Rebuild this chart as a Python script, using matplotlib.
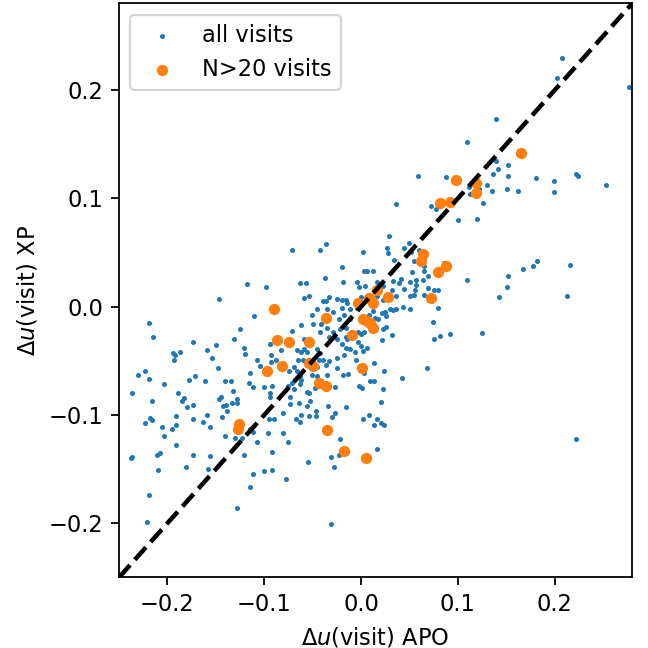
import matplotlib
matplotlib.use("Agg")
import matplotlib.pyplot as plt
import numpy as np

# Per-visit velocity offsets: APO pipeline vs XP pipeline, all visits
all_apo = [
    0.208, 0.202, 0.277, 0.139, 0.109, 0.059, 0.088, 0.139, 0.152, 0.141,
    0.136, 0.152, 0.181, 0.199, 0.222, 0.224, 0.253, 0.130, 0.112, 0.113,
    0.122, 0.135, 0.151, 0.162, 0.199, 0.126, 0.036, 0.072, 0.077, 0.100,
    0.120,
    0.029, 0.050, 0.027, 0.028, 0.044, 0.052, 0.060, 0.034, 0.055, 0.065,
    0.065, 0.086, 0.012, 0.053, 0.069, 0.064, 0.057, 0.041, 0.039, 0.033,
    0.023, 0.016, 0.057, 0.051, 0.044, 0.032, 0.056, 0.069, 0.075, 0.080,
    0.051, 0.055, 0.065, 0.036, 0.017, 0.023, 0.109, 0.152, 0.167, 0.178,
    0.182, 0.216, 0.151, 0.142, 0.213,
    0.008, 0.012, 0.014, 0.018, 0.022, 0.025, 0.026, 0.030, 0.033, 0.036,
    0.043, 0.051, 0.080, -0.003, 0.000, 0.003, 0.023, 0.026, 0.022, 0.032,
    0.074, 0.075, 0.082, 0.092, -0.003, 0.000, 0.002, 0.006, -0.005, 0.013,
    0.024, 0.068, 0.042, 0.003, 0.009, 0.013, -0.002, 0.001, 0.023, 0.021,
    0.008,
    0.125, 0.016, 0.013, 0.021, 0.024, 0.016, 0.222, 0.002,
    -0.036, -0.071, -0.042, -0.020, -0.118, -0.098, -0.063, -0.057, -0.037, -0.019,
    -0.059, -0.054, -0.033, -0.039, -0.036, -0.025, -0.020, -0.015, -0.014, 0.002,
    0.003, 0.006, -0.004, -0.002, 0.004, 0.000, -0.147,
    -0.219, -0.215, -0.174, -0.194, -0.192, -0.193, -0.187, -0.150, -0.159, -0.154,
    -0.148, -0.131, -0.125, -0.121, -0.120, -0.230, -0.223, -0.219, -0.203, -0.178,
    -0.171, -0.161, -0.140, -0.134, -0.236, -0.189, -0.183, -0.185, -0.147, -0.145,
    -0.216, -0.132, -0.128, -0.128, -0.180, -0.174, -0.143, -0.139, -0.133, -0.138,
    -0.223, -0.218, -0.216, -0.206, -0.195, -0.191, -0.191, -0.174, -0.163, -0.159,
    -0.156, -0.203, -0.191, -0.140, -0.144, -0.130, -0.123, -0.238, -0.236, -0.211,
    -0.208, -0.174, -0.156, -0.181, -0.158, -0.210, -0.121,
    -0.219, -0.221, -0.128, -0.115, -0.031, -0.112, -0.077, -0.115, -0.112, -0.107,
    -0.095, -0.090, -0.096, -0.092, -0.100, -0.092, -0.081, -0.075, -0.067, -0.063,
    -0.062, -0.054, -0.046, -0.055, -0.030, -0.031, -0.028, -0.022, -0.023,
    -0.045, -0.029, -0.020, -0.011, -0.004, -0.110, -0.071, -0.062, -0.050, -0.041,
    -0.042, -0.035, -0.029, -0.022, -0.015, -0.016, -0.014, -0.033, -0.025, -0.020,
    -0.059, -0.094, -0.083, -0.059, -0.066, -0.062, -0.056, -0.045, -0.042, -0.043,
    -0.039, -0.025, -0.018, -0.015, -0.011, -0.006, -0.107, -0.104, -0.093, -0.093,
    -0.088, -0.065, -0.060, -0.069, -0.066, -0.074, -0.033, -0.036, -0.045, -0.045,
    -0.051, -0.063, -0.062, -0.035, -0.025, -0.019, -0.013, -0.115, -0.116, -0.112,
    -0.100, -0.092, -0.094, -0.094, -0.075, -0.071, -0.063, -0.069, -0.073, -0.056,
    -0.054, -0.048, -0.027, -0.073, -0.064, -0.053, -0.056, -0.046, -0.034, -0.027,
    -0.015, -0.081, -0.051, -0.023, -0.018, -0.011, -0.035,
]
all_xp = [
    0.230, 0.211, 0.203, 0.173, 0.152, 0.121, 0.120, 0.135, 0.131, 0.127,
    0.123, 0.121, 0.119, 0.116, 0.123, 0.121, 0.112, 0.112, 0.111, 0.104,
    0.109, 0.107, 0.109, 0.107, 0.106, 0.096, 0.095, 0.093, 0.090, 0.080,
    0.081,
    0.065, 0.059, 0.054, 0.050, 0.054, 0.051, 0.052, 0.043, 0.042, 0.038,
    0.033, 0.040, 0.033, 0.032, 0.028, 0.025, 0.025, 0.026, 0.022, 0.024,
    0.019, 0.023, 0.020, 0.023, 0.016, 0.015, 0.015, 0.017, 0.015, 0.015,
    0.010, 0.011, 0.011, 0.010, 0.010, 0.006, 0.025, 0.028, 0.035, 0.038,
    0.042, 0.039, 0.018, 0.009, 0.010,
    -0.008, -0.004, -0.010, -0.011, -0.006, -0.005, -0.009, -0.002, -0.003, -0.002,
    0.000, -0.002, -0.001, -0.023, -0.025, -0.023, -0.021, -0.019, -0.031, -0.026,
    -0.014, -0.030, -0.027, -0.025, -0.033, -0.036, -0.041, -0.038, -0.049, -0.052,
    -0.059, -0.057, -0.066, -0.061, -0.069, -0.069, -0.073, -0.075, -0.076, -0.088,
    -0.100,
    -0.024, -0.104, -0.109, -0.107, -0.109, -0.131, -0.122, -0.104,
    0.058, 0.052, 0.052, 0.037, 0.021, 0.018, 0.022, 0.022, 0.027, 0.023,
    0.008, 0.010, 0.009, 0.005, 0.005, 0.007, 0.006, 0.006, 0.003, 0.051,
    0.033, 0.033, 0.023, 0.018, 0.019, 0.009, 0.007,
    -0.015, -0.028, -0.033, -0.043, -0.045, -0.049, -0.042, -0.035, -0.040, -0.047,
    -0.057, -0.030, -0.021, -0.038, -0.044, -0.063, -0.059, -0.067, -0.071, -0.068,
    -0.064, -0.069, -0.069, -0.069, -0.080, -0.080, -0.084, -0.087, -0.085, -0.083,
    -0.087, -0.078, -0.085, -0.089, -0.093, -0.091, -0.092, -0.091, -0.089, -0.096,
    -0.107, -0.103, -0.105, -0.111, -0.113, -0.109, -0.101, -0.104, -0.106, -0.100,
    -0.111, -0.119, -0.128, -0.119, -0.102, -0.121, -0.121, -0.140, -0.139, -0.137,
    -0.135, -0.137, -0.138, -0.148, -0.150, -0.151, -0.137,
    -0.174, -0.199, -0.186, -0.166, -0.201, -0.154, -0.159, -0.113, -0.116, -0.125,
    -0.104, -0.104, -0.117, -0.134, -0.152, -0.151, -0.117, -0.125, -0.104, -0.106,
    -0.100, -0.101, -0.101, -0.143, -0.102, -0.139, -0.148, -0.122, -0.137,
    -0.002, -0.005, -0.001, -0.002, -0.001, -0.009, -0.022, -0.017, -0.016, -0.016,
    -0.023, -0.020, -0.023, -0.021, -0.020, -0.028, -0.030, -0.028, -0.030, -0.034,
    -0.030, -0.034, -0.040, -0.039, -0.040, -0.042, -0.042, -0.039, -0.043, -0.049,
    -0.049, -0.047, -0.045, -0.038, -0.039, -0.042, -0.049, -0.055, -0.045, -0.051,
    -0.049, -0.049, -0.049, -0.056, -0.059, -0.059, -0.050, -0.054, -0.056, -0.064,
    -0.063, -0.064, -0.068, -0.063, -0.057, -0.063, -0.062, -0.061, -0.070, -0.074,
    -0.074, -0.073, -0.080, -0.083, -0.073, -0.070, -0.071, -0.076, -0.083, -0.079,
    -0.080, -0.075, -0.074, -0.090, -0.089, -0.087, -0.092, -0.096, -0.092, -0.098,
    -0.093, -0.098, -0.008, -0.011, -0.008, -0.011, -0.002,
]

# Stars with more than 20 visits
n20_apo = [
    0.165, 0.098, 0.119, 0.119, 0.082, 0.092, 0.064, 0.062, 0.088, 0.079,
    0.072, 0.028, 0.016, 0.012, 0.008, -0.003, 0.002, 0.006, 0.009, 0.012,
    -0.009, 0.001, -0.090, -0.087, -0.074, -0.054, -0.036, -0.082, -0.097, -0.054,
    -0.050, -0.043, -0.036, -0.126, -0.127, -0.035, -0.018, 0.005,
]
n20_xp = [
    0.142, 0.117, 0.114, 0.105, 0.096, 0.097, 0.049, 0.042, 0.038, 0.032,
    0.008, 0.009, 0.015, 0.003, 0.008, 0.003, -0.011, -0.013, -0.015, -0.020,
    -0.026, -0.057, -0.002, -0.031, -0.033, -0.033, -0.010, -0.055, -0.059, -0.052,
    -0.055, -0.070, -0.073, -0.108, -0.113, -0.114, -0.133, -0.140,
]

xlim = (-0.25, 0.28)
ylim = (-0.25, 0.28)
ticks = [-0.2, -0.1, 0.0, 0.1, 0.2]

DPI = 162
fig = plt.figure(figsize=(649 / DPI, 648 / DPI), dpi=DPI)
ax = fig.add_axes([0.1832, 0.1088, 0.9741 - 0.1832, 0.9946 - 0.1088])

ax.scatter(all_apo, all_xp, s=1.5, color="tab:blue", label="all visits")
ax.scatter(n20_apo, n20_xp, s=16, color="tab:orange", label="N>20 visits")
# one-to-one reference line
ax.plot(xlim, ylim, "k--", lw=2)

ax.set_xlim(*xlim)
ax.set_ylim(*ylim)
ax.set_xticks(ticks)
ax.set_yticks(ticks)
ax.set_xlabel(r"$\Delta u$(visit) APO")
ax.set_ylabel(r"$\Delta u$(visit) XP")
ax.legend(loc="upper left")

fig.savefig("out.png", dpi=DPI)
